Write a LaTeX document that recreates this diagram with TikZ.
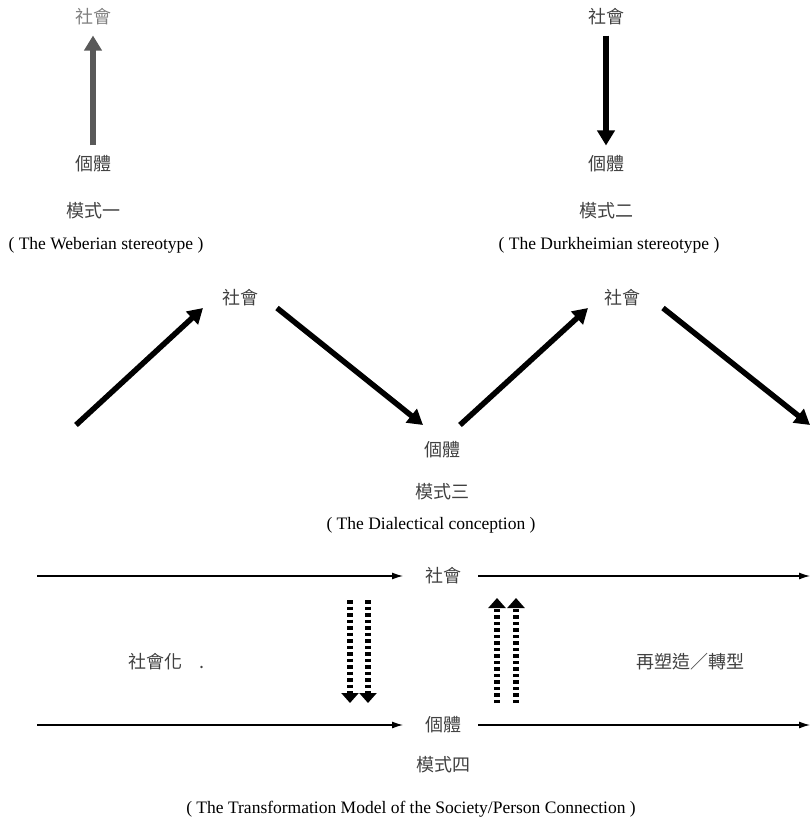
\documentclass[tikz,border=0pt]{standalone}
\usepackage{fontspec}
\setmainfont{Liberation Serif}
\newfontfamily\cjk{Noto Sans CJK TC}
\usepackage{tikz}
\usetikzlibrary{calc,positioning,arrows.meta}
\definecolor{txtgray}{gray}{0.25}
\definecolor{arrowgray}{gray}{0.35}
\tikzset{line/.style={draw, line width=1.2pt, -{Latex[length=11pt,width=7pt]}}}

\begin{document}
\begin{tikzpicture}[x=1pt, y=-1pt]
\tikzstyle{word} = [font=\cjk\fontsize{18}{20}\selectfont, text=txtgray, inner sep=10pt]
\tikzstyle{caption} = [font=\fontsize{17.5}{20}\selectfont, inner sep=0pt]
\tikzstyle{thickarrow} = [draw, line width=5.5pt, -{Triangle[length=15pt,width=17pt]}]
\tikzstyle{dotarrow} = [draw, line width=5.5pt, dash pattern=on 3.5pt off 3pt, -{Triangle[length=10pt,width=17pt]}]
\useasboundingbox (0,0) rectangle (811,822);

% nodes
    % model 1
    \node [word, text=gray] (soc1) at (93,17) {社會};
    \node [word] (ind1) at (93,164) {個體};
    \node [word, below of=ind1, node distance=47pt] (mod1) {模式一};
    \node [caption] (weber) at (106,245) {( The Weberian stereotype )};
    % model 2
    \node [word] (soc2) at (606,17) {社會};
    \node [word] (ind2) at (606,164) {個體};
    \node [word, below of=ind2, node distance=47pt] (mod2) {模式二};
    \node [caption] (durk) at (609,245) {( The Durkheimian stereotype )};
    % model 3
    \node [word] (soc3a) at (240,298) {社會};
    \node [word] (ind3) at (442,450) {個體};
    \node [word] (soc3b) at (622,298) {社會};
    \node [word, below of=ind3, node distance=42pt] (mod3) {模式三};
    \node [caption] (dial) at (431,525) {( The Dialectical conception )};
    \coordinate (dial in) at (76,425);
    \coordinate (dial out) at (810,425);
    % model 4
    \node [word] (soc4) at (443,576) {社會};
    \node [word] (ind4) at (443,725) {個體};
    \node [word, below of=ind4, node distance=40pt] (mod4) {模式四};
    \node [word] (socz) at (155,662) {社會化};
    \node [word, inner sep=0pt, anchor=base west] (dot) at ([xshift=7pt]socz.base east) {.};
    \node [word] (reshape) at (690,662) {再塑造／轉型};
    \node [caption] (trans) at (411,809) {( The Transformation Model of the Society/Person Connection )};
    \coordinate (soc in) at (37,576);
    \coordinate (soc out) at (810,576);
    \coordinate (ind in) at (37,725);
    \coordinate (ind out) at (810,725);

% arrows
    % model 1
    \path [thickarrow, draw=arrowgray] (ind1.north) -- (soc1.south);
    % model 2
    \path [thickarrow] (soc2.south) -- (ind2.north);
    % model 3
    \path [thickarrow] (dial in) -- ($(soc3a)+(-37,10)$);
    \path [thickarrow] ($(soc3a)+(37,10)$) -- ($(ind3)+(-19,-25)$);
    \path [thickarrow] ($(ind3)+(18,-25)$) -- ($(soc3b)+(-34,10)$);
    \path [thickarrow] ($(soc3b)+(41,10)$) -- (dial out);
    % model 4
    \path [line] (soc in) -- ($(soc4)+(-40,0)$);
    \path [line] ($(soc4)+(35,0)$) -- (soc out);
    \path [line] (ind in) -- ($(ind4)+(-40,0)$);
    \path [line] ($(ind4)+(35,0)$) -- (ind out);
    \path [dotarrow] ($(soc4)+(-93,24)$) -- ($(ind4)+(-93,-22)$);
    \path [dotarrow] ($(soc4)+(-75,24)$) -- ($(ind4)+(-75,-22)$);
    \path [dotarrow] ($(ind4)+(54,-22)$) -- ($(soc4)+(54,22)$);
    \path [dotarrow] ($(ind4)+(73,-22)$) -- ($(soc4)+(73,22)$);
\end{tikzpicture}
\end{document}
